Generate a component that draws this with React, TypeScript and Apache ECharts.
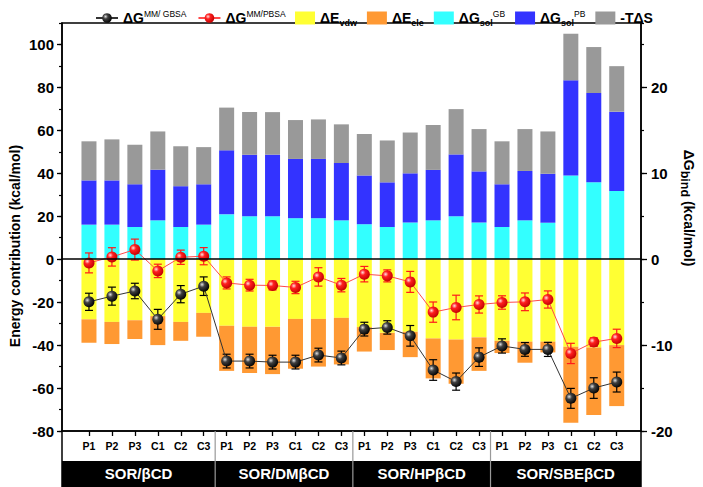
import React, { useEffect, useRef } from 'react';
import * as echarts from 'echarts';

// ---------------- data ----------------
const groups = ['SOR/βCD', 'SOR/DMβCD', 'SOR/HPβCD', 'SOR/SBEβCD'];
const systems = ['P1', 'P2', 'P3', 'C1', 'C2', 'C3'];
const categories = groups.flatMap((g) => systems.map((s) => `${g}|${s}`));

// stacked segment heights (kcal/mol, left axis)
const dGsolGB = [16.1, 16.1, 15.0, 18.1, 15.0, 16.1, 20.9, 20.0, 20.0, 19.1, 19.1, 18.1, 16.3, 15.0, 17.1, 18.1, 20.0, 17.1, 15.0, 18.1, 17.0, 39.0, 35.8, 31.8];
const dGsolPB = [20.6, 20.6, 19.9, 23.6, 19.0, 18.8, 29.8, 28.7, 28.7, 27.6, 27.6, 26.7, 22.7, 20.8, 22.9, 23.5, 28.8, 23.8, 19.9, 23.0, 22.8, 44.3, 41.6, 36.9];
const minusTdS = [18.2, 19.1, 18.4, 17.8, 18.6, 17.3, 19.9, 19.8, 19.8, 18.1, 18.4, 18.0, 19.3, 19.5, 19.0, 20.9, 21.1, 19.7, 20.0, 19.5, 19.7, 21.7, 21.4, 21.2];
const dEvdw = [-28.0, -29.2, -28.4, -26.5, -29.2, -25.0, -31.0, -31.5, -31.5, -27.8, -27.8, -27.3, -31.6, -34.3, -33.8, -36.9, -37.4, -36.4, -38.0, -38.4, -38.4, -40.8, -41.1, -40.0];
const dEele = [-10.9, -10.3, -8.8, -13.5, -8.8, -11.1, -21.0, -21.5, -22.0, -23.2, -22.2, -21.7, -11.4, -8.0, -11.8, -18.6, -20.6, -15.6, -5.7, -9.8, -5.0, -35.3, -31.5, -28.4];

// binding free energies (kcal/mol, right axis)
const dGgbsa = [-4.96, -4.3, -3.7, -7.0, -4.07, -3.14, -11.86, -11.86, -11.98, -11.98, -11.16, -11.5, -8.14, -7.94, -8.92, -12.9, -14.25, -11.4, -10.1, -10.5, -10.5, -16.2, -15.0, -14.3];
const dGgbsaErr = [1.0, 1.05, 0.9, 1.16, 1.0, 1.08, 0.8, 0.8, 0.8, 0.8, 0.8, 0.8, 0.8, 0.78, 1.2, 1.2, 1.0, 1.08, 0.83, 0.8, 0.82, 1.16, 1.2, 1.16];
const dGpbsa = [-0.43, 0.27, 1.12, -1.36, 0.23, 0.35, -2.76, -3.02, -3.06, -3.29, -2.06, -3.02, -1.74, -1.94, -2.64, -6.16, -5.62, -5.27, -5.04, -4.96, -4.69, -10.97, -9.65, -9.22];
const dGpbsaErr = [1.16, 1.07, 1.22, 0.78, 0.83, 1.0, 0.7, 0.68, 0.52, 0.72, 1.07, 0.78, 0.9, 0.7, 1.22, 1.18, 1.43, 1.0, 0.78, 1.03, 1.0, 1.18, 0.5, 1.07];

const leftRange = { min: -80, max: 110, interval: 20, minor: 10 };
const rightRange = { min: -20, max: 27.5, interval: 10, minor: 5 };

// ---------------- layout ----------------
const W = 703;
const H = 487;
const FRAME_L = 62;
const FRAME_R = 641;
const TOP = 23;
const AXIS_Y = 431;
const BAR_L = 77.5;
const BAR_R = 628.2;
const BLACK_Y = 461;
const FONT = 'Liberation Sans, Arial, sans-serif';

const COLORS = {
  gb: '#33ffff',
  pb: '#3333ff',
  tds: '#999999',
  vdw: '#ffff33',
  ele: '#ff9933',
};

const legendText: Record<string, string> = {
  GBSA: '{b|ΔG}{sup|MM/ GBSA}',
  PBSA: '{b|ΔG}{sup|MM/PBSA}',
  vdw: '{b|ΔE}{sub|vdw}',
  ele: '{b|ΔE}{sub|ele}',
  solGB: '{b|ΔG}{sub|sol}{sup|GB}',
  solPB: '{b|ΔG}{sub|sol}{sup|PB}',
  TdS: '{b|-TΔS}',
};

const richLegend = {
  b: { fontSize: 14, fontWeight: 'bold', fontFamily: FONT, color: '#000', lineHeight: 18 },
  sup: { fontSize: 8.5, fontFamily: FONT, color: '#000', lineHeight: 9, verticalAlign: 'top' },
  sub: { fontSize: 9, fontWeight: 'bold', fontFamily: FONT, color: '#000', lineHeight: 9, verticalAlign: 'bottom' },
};

function errorBar(color: string) {
  return (params: any, api: any) => {
    const x = api.value(0);
    const y = api.value(1);
    const e = api.value(2);
    const hi = api.coord([x, y + e]);
    const lo = api.coord([x, y - e]);
    const hw = 4;
    const style = { stroke: color, lineWidth: 1.2 };
    return {
      type: 'group',
      children: [
        { type: 'line', shape: { x1: hi[0], y1: hi[1], x2: lo[0], y2: lo[1] }, style },
        { type: 'line', shape: { x1: hi[0] - hw, y1: hi[1], x2: hi[0] + hw, y2: hi[1] }, style },
        { type: 'line', shape: { x1: lo[0] - hw, y1: lo[1], x2: lo[0] + hw, y2: lo[1] }, style },
      ],
    };
  };
}

function sphere(light: string, mid: string, dark: string) {
  return {
    type: 'radial',
    x: 0.35,
    y: 0.35,
    r: 0.7,
    colorStops: [
      { offset: 0, color: light },
      { offset: 0.35, color: mid },
      { offset: 1, color: dark },
    ],
  };
}

export default function App() {
  const ref = useRef<HTMLDivElement>(null);

  useEffect(() => {
    document.body.style.margin = '0';
    if (!ref.current) return;
    const chart = echarts.init(ref.current, null, { renderer: 'svg' });

    const band = (BAR_R - BAR_L) / categories.length;
    const boundaries = [1, 2, 3].map((k) => BAR_L + k * systems.length * band);
    const boxEdges = [FRAME_L, ...boundaries, FRAME_R];

    const axisLineStyle = { color: '#000', width: 1.5 };
    const labelStyle = { fontSize: 15, fontWeight: 'bold', color: '#000', fontFamily: FONT };

    const barBase = {
      type: 'bar',
      stack: 'e',
      xAxisIndex: 1,
      yAxisIndex: 4,
      barWidth: 15,
      z: 2,
    };

    const graphics: any[] = [
      {
        type: 'rect',
        shape: { x: FRAME_L, y: AXIS_Y, width: FRAME_R - FRAME_L, height: H - AXIS_Y + 4 },
        style: { fill: 'transparent', stroke: '#000', lineWidth: 1.5 },
        z: 50,
      },
      {
        type: 'rect',
        shape: { x: FRAME_L, y: BLACK_Y, width: FRAME_R - FRAME_L, height: H - BLACK_Y + 4 },
        style: { fill: '#000' },
        z: 51,
      },
      ...boundaries.map((bx) => ({
        type: 'line',
        shape: { x1: bx, y1: AXIS_Y, x2: bx, y2: H },
        style: { stroke: '#999', lineWidth: 1.2 },
        z: 52,
      })),
      ...groups.map((g, i) => ({
        type: 'text',
        x: (boxEdges[i] + boxEdges[i + 1]) / 2,
        y: (BLACK_Y + H) / 2 - 1,
        style: {
          text: g,
          fill: '#fff',
          font: `bold 15px ${FONT}`,
          align: 'center',
          verticalAlign: 'middle',
        },
        z: 53,
      })),
      {
        type: 'text',
        x: 15,
        y: 246,
        rotation: Math.PI / 2,
        style: {
          text: 'Energy contribution (kcal/mol)',
          fill: '#000',
          font: `bold 14px ${FONT}`,
          align: 'center',
          verticalAlign: 'middle',
        },
        z: 53,
      },
      {
        type: 'text',
        x: 689,
        y: 208,
        rotation: -Math.PI / 2,
        style: {
          text: '{a|ΔG}{s|bind}{a| (kcal/mol)}',
          rich: {
            a: { fontSize: 14, fontWeight: 'bold', fontFamily: FONT, fill: '#000', lineHeight: 22 },
            s: { fontSize: 12.5, fontWeight: 'bold', fontFamily: FONT, fill: '#000', lineHeight: 10, verticalAlign: 'bottom' },
          },
          align: 'center',
          verticalAlign: 'middle',
        },
        z: 53,
      },
    ];

    const option: any = {
      animation: false,
      textStyle: { fontFamily: FONT },
      legend: [
        {
          data: ['GBSA', 'PBSA'],
          left: 90,
          top: 4,
          itemWidth: 22,
          itemHeight: 12,
          itemGap: 11,
          selectedMode: false,
          formatter: (n: string) => legendText[n],
          textStyle: { rich: richLegend },
        },
        {
          data: ['vdw', 'ele', 'solGB', 'solPB', 'TdS'],
          left: 290,
          top: 4,
          itemWidth: 20,
          itemHeight: 13,
          itemGap: 10,
          icon: 'rect',
          selectedMode: false,
          formatter: (n: string) => legendText[n],
          textStyle: { rich: richLegend },
        },
      ],
      grid: [
        {
          left: FRAME_L,
          right: W - FRAME_R,
          top: TOP,
          bottom: H - AXIS_Y,
          show: true,
          borderColor: '#000',
          borderWidth: 1.5,
        },
        {
          left: BAR_L,
          right: W - BAR_R,
          top: TOP,
          bottom: H - AXIS_Y,
        },
      ],
      xAxis: [
        {
          gridIndex: 0,
          type: 'value',
          min: 0,
          max: 1,
          axisLine: { show: true, onZero: true, lineStyle: { color: '#000', width: 1.5 } },
          axisTick: { show: false },
          axisLabel: { show: false },
          splitLine: { show: false },
          z: 10,
        },
        {
          gridIndex: 1,
          type: 'category',
          data: categories,
          position: 'bottom',
          axisLine: { show: false, onZero: false },
          axisTick: { show: true, alignWithLabel: true, length: 5, lineStyle: { color: '#000', width: 1.3 } },
          axisLabel: {
            interval: 0,
            margin: 9,
            fontSize: 10.5,
            fontWeight: 'bold',
            color: '#000',
            fontFamily: FONT,
            formatter: (v: string) => v.split('|')[1],
          },
          splitLine: { show: false },
        },
      ],
      yAxis: [
        {
          gridIndex: 0,
          type: 'value',
          position: 'left',
          min: leftRange.min,
          max: leftRange.max,
          interval: leftRange.interval,
          axisLine: { show: true, onZero: false, lineStyle: axisLineStyle },
          axisTick: { show: true, length: 5, lineStyle: { color: '#000', width: 1.3 } },
          axisLabel: { ...labelStyle, margin: 8, showMaxLabel: false },
          splitLine: { show: false },
        },
        {
          gridIndex: 0,
          type: 'value',
          position: 'right',
          min: rightRange.min,
          max: rightRange.max,
          interval: rightRange.interval,
          axisLine: { show: true, onZero: false, lineStyle: axisLineStyle },
          axisTick: { show: true, length: 6, lineStyle: { color: '#000', width: 1.3 } },
          axisLabel: { ...labelStyle, margin: 10, showMaxLabel: false },
          splitLine: { show: false },
        },
        {
          gridIndex: 0,
          type: 'value',
          position: 'left',
          min: leftRange.min,
          max: leftRange.max,
          interval: leftRange.minor,
          axisLine: { show: false, onZero: false },
          axisTick: { show: true, length: 3, lineStyle: { color: '#000', width: 1.2 } },
          axisLabel: { show: false },
          splitLine: { show: false },
        },
        {
          gridIndex: 0,
          type: 'value',
          position: 'right',
          min: rightRange.min,
          max: rightRange.max,
          interval: rightRange.minor,
          axisLine: { show: false, onZero: false },
          axisTick: { show: true, length: 3, lineStyle: { color: '#000', width: 1.2 } },
          axisLabel: { show: false },
          splitLine: { show: false },
        },
        {
          gridIndex: 1,
          type: 'value',
          min: leftRange.min,
          max: leftRange.max,
          show: false,
        },
        {
          gridIndex: 1,
          type: 'value',
          min: rightRange.min,
          max: rightRange.max,
          show: false,
        },
      ],
      graphic: graphics,
      series: [
        { ...barBase, name: 'solGB', data: dGsolGB, itemStyle: { color: COLORS.gb } },
        { ...barBase, name: 'solPB', data: dGsolPB, itemStyle: { color: COLORS.pb } },
        { ...barBase, name: 'TdS', data: minusTdS, itemStyle: { color: COLORS.tds } },
        { ...barBase, name: 'vdw', data: dEvdw, itemStyle: { color: COLORS.vdw } },
        { ...barBase, name: 'ele', data: dEele, itemStyle: { color: COLORS.ele } },
        {
          type: 'custom',
          name: 'GBSAerr',
          xAxisIndex: 1,
          yAxisIndex: 5,
          renderItem: errorBar('#000'),
          encode: { x: 0, y: 1 },
          data: dGgbsa.map((v, i) => [i, v, dGgbsaErr[i]]),
          z: 3,
        },
        {
          type: 'custom',
          name: 'PBSAerr',
          xAxisIndex: 1,
          yAxisIndex: 5,
          renderItem: errorBar('#ff1a1a'),
          encode: { x: 0, y: 1 },
          data: dGpbsa.map((v, i) => [i, v, dGpbsaErr[i]]),
          z: 3,
        },
        {
          type: 'line',
          name: 'GBSA',
          xAxisIndex: 1,
          yAxisIndex: 5,
          data: dGgbsa,
          symbol: 'circle',
          symbolSize: 11,
          itemStyle: { color: sphere('#e0e0e0', '#404040', '#000') },
          lineStyle: { color: '#333', width: 1 },
          z: 4,
        },
        {
          type: 'line',
          name: 'PBSA',
          xAxisIndex: 1,
          yAxisIndex: 5,
          data: dGpbsa,
          symbol: 'circle',
          symbolSize: 11,
          itemStyle: { color: sphere('#ffe0e0', '#ff2020', '#c00000') },
          lineStyle: { color: '#ff4a4a', width: 1 },
          z: 4,
        },
      ],
    };

    chart.setOption(option);
    return () => chart.dispose();
  }, []);

  return <div ref={ref} style={{ width: W, height: H }} />;
}
